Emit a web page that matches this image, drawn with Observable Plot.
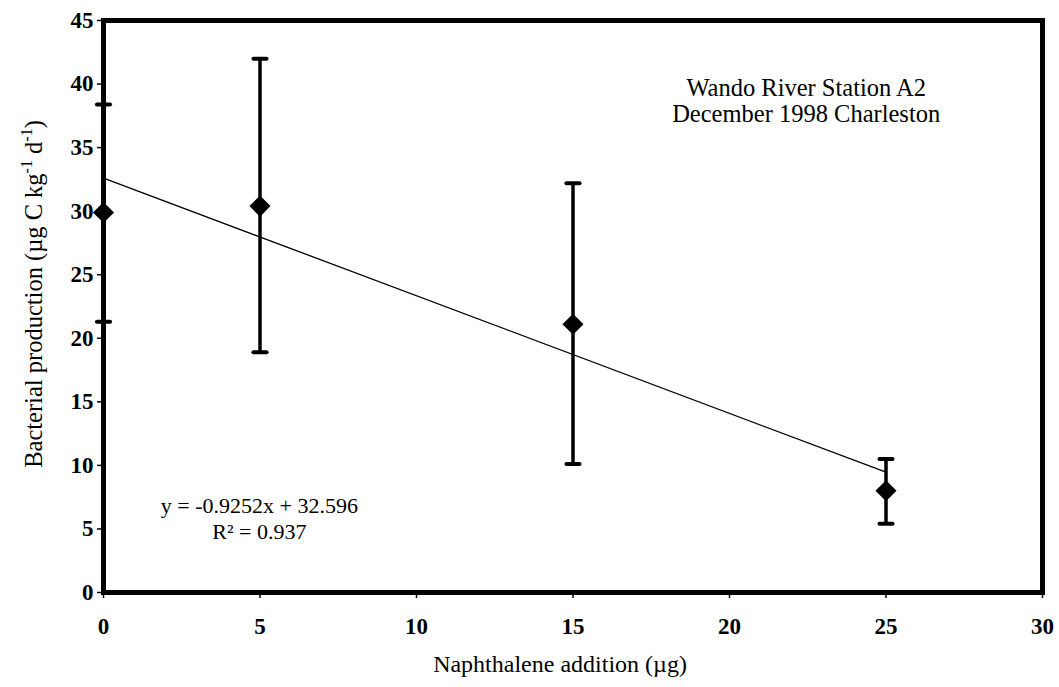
<!DOCTYPE html>
<html>
<head>
<meta charset="utf-8">
<script src="https://cdn.jsdelivr.net/npm/d3@7"></script>
<script src="https://cdn.jsdelivr.net/npm/@observablehq/plot@0.6"></script>
<style>
  html, body { margin: 0; padding: 0; background: #fff; }
  #chart svg { display: block; }
  #chart svg, #chart svg text, #chart svg tspan { font-family: "Liberation Serif", "Times New Roman", serif !important; }
  #chart svg [aria-label="x-axis tick label"], #chart svg [aria-label="y-axis tick label"] { font-weight: bold; }
</style>
</head>
<body>
<div id="chart"></div>
<script>
// Data
const additions = [0, 5, 15, 25];                 // Naphthalene addition (µg)
const production = [29.9, 30.4, 21.1, 8.0];       // mean bacterial production
const errLow = [21.3, 18.9, 10.1, 5.4];
const errHigh = [38.4, 42.0, 32.2, 10.5];
const slope = -0.9252;
const intercept = 32.596;
const fitRange = [0, 25];
const xTicks = [0, 5, 10, 15, 20, 25, 30];
const yTicks = [0, 5, 10, 15, 20, 25, 30, 35, 40, 45];

const points = additions.map((x, i) => ({x, y: production[i], lo: errLow[i], hi: errHigh[i]}));
const fit = fitRange.map(x => ({x, y: slope * x + intercept}));

const capSymbol = {
  draw(context, size) {
    const w = Math.sqrt(size);
    context.moveTo(-w, 0);
    context.lineTo(w, 0);
  }
};

const W = 1059, H = 687;
const plot = Plot.plot({
  width: W,
  height: H,
  marginLeft: 103,
  marginRight: 17,
  marginTop: 20,
  marginBottom: 95,
  style: {fontSize: "22px", color: "#000", background: "#fff"},
  x: {domain: [0, 30], ticks: xTicks, label: null},
  y: {domain: [0, 45], ticks: yTicks, label: null},
  marks: [
    Plot.axisX({ticks: xTicks, tickSize: 6, tickPadding: 19, label: null, fontSize: 23, fontWeight: "bold", strokeWidth: 1.5}),
    Plot.axisY({ticks: yTicks, tickSize: 6, tickPadding: 4, label: null, fontSize: 23, fontWeight: "bold", strokeWidth: 1.5}),
    Plot.line(fit, {x: "x", y: "y", stroke: "#000", strokeWidth: 1.3}),
    Plot.ruleX(points, {x: "x", y1: "lo", y2: "hi", stroke: "#000", strokeWidth: 3.5}),
    Plot.dot(points, {x: "x", y: "lo", symbol: capSymbol, r: 3.7, stroke: "#000", strokeWidth: 4, strokeLinecap: "round", fill: "none"}),
    Plot.dot(points, {x: "x", y: "hi", symbol: capSymbol, r: 3.7, stroke: "#000", strokeWidth: 4, strokeLinecap: "round", fill: "none"}),
    Plot.dot(points, {x: "x", y: "y", symbol: "diamond2", r: 9.5, fill: "#000", stroke: "none"}),
    Plot.frame({stroke: "#000", strokeWidth: 5}),
    Plot.text(["Wando River Station A2\nDecember 1998 Charleston"], {
      x: 22.45, y: 38.66, text: d => d, fontSize: 24.5, lineHeight: 1.05, textAnchor: "middle", fill: "#000"
    }),
    Plot.text(["y = -0.9252x + 32.596\nR\u00B2 = 0.937"], {
      x: 4.98, y: 5.88, text: d => d, fontSize: 22, lineHeight: 1.18, textAnchor: "middle", fill: "#000"
    })
  ]
});

const svg = d3.select(plot);
// x axis title
svg.append("text")
  .attr("x", 560)
  .attr("y", 672)
  .attr("text-anchor", "middle")
  .attr("font-size", 24)
  .attr("fill", "#000")
  .text("Naphthalene addition (µg)");
// y axis title with superscripts
const yt = svg.append("text")
  .attr("transform", "translate(42, 294) rotate(-90)")
  .attr("text-anchor", "middle")
  .attr("font-size", 24.5)
  .attr("fill", "#000");
yt.append("tspan").text("Bacterial production (µg C kg");
yt.append("tspan").attr("dy", -10).attr("font-size", 16).text("-1");
yt.append("tspan").attr("dy", 10).text(" d");
yt.append("tspan").attr("dy", -10).attr("font-size", 16).text("-1");
yt.append("tspan").attr("dy", 10).text(")");

document.getElementById("chart").appendChild(plot);
</script>
</body>
</html>
